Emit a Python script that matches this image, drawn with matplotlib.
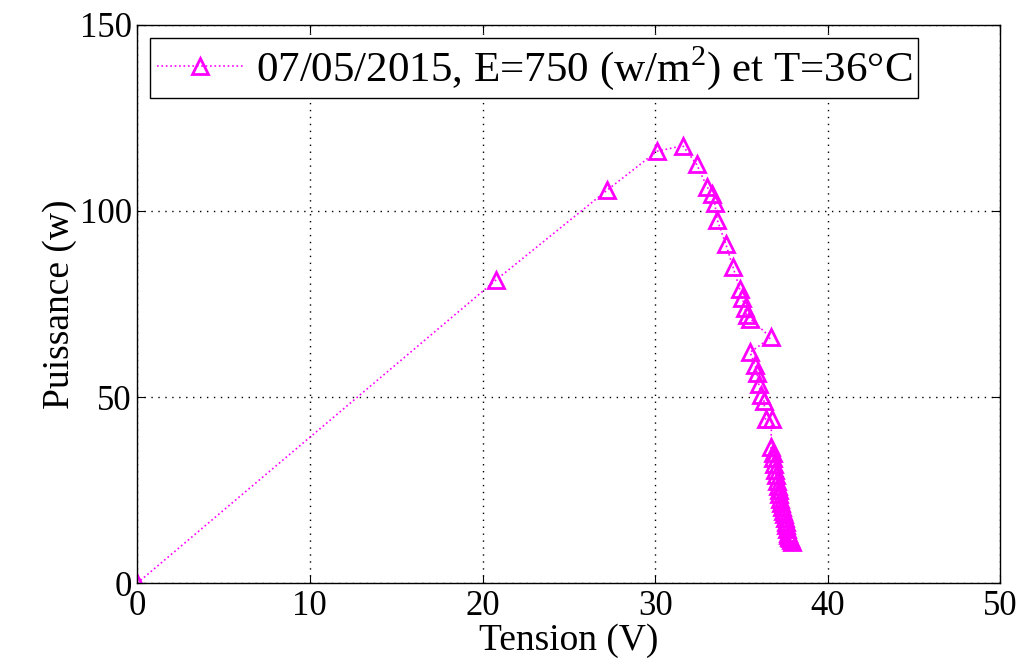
import matplotlib
matplotlib.use("Agg")
import matplotlib.pyplot as plt

tension = [0.0, 20.8, 27.2, 30.1, 31.6, 32.4, 33.0, 33.3, 33.45, 33.6,
           34.1, 34.5, 34.9, 35.05, 35.2, 35.3, 35.5, 36.7,
           35.5, 35.8, 35.9, 36.0, 36.15, 36.3, 36.4, 36.75,
           36.7, 36.8, 36.85, 36.9, 36.95, 37.0, 37.05, 37.1, 37.15, 37.2,
           37.25, 37.3, 37.35, 37.4, 37.45, 37.5, 37.55, 37.6, 37.65, 37.7,
           37.72, 37.75, 37.8, 37.85, 37.9]
puissance = [0.0, 81.5, 105.5, 116.0, 117.5, 112.5, 106.5, 104.5, 102.0, 97.5,
             91.0, 85.0, 79.0, 76.5, 74.0, 72.0, 71.0, 66.0,
             62.0, 58.5, 56.5, 53.5, 50.5, 49.0, 44.0, 44.0,
             36.5, 35.0, 33.5, 32.0, 30.5, 29.0, 27.5, 26.0, 25.0, 24.0,
             22.5, 21.5, 20.5, 19.5, 18.5, 17.5, 16.5, 15.5, 14.5, 13.5,
             13.0, 12.5, 12.0, 11.5, 11.0]

LABEL = "07/05/2015, E=750 (w/m$^2$) et T=36\u00b0C"

plt.rcParams["font.family"] = ["Liberation Serif", "DejaVu Serif"]
plt.rcParams["mathtext.fontset"] = "custom"
plt.rcParams["mathtext.rm"] = "Liberation Serif"

fig = plt.figure(figsize=(10.24, 6.68), dpi=100)
ax = fig.add_axes([0.134, 0.127, 0.843, 0.836])

ax.plot(tension, puissance, color="#ff00ff", linestyle=":", linewidth=1.2,
        marker="^", markersize=12, markerfacecolor="none",
        markeredgecolor="#ff00ff", markeredgewidth=2.0, label=LABEL)

ax.set_xlim(0, 50)
ax.set_ylim(0, 150)
ax.set_xticks(range(0, 51, 10))
ax.set_yticks([0, 50, 100, 150])
ax.tick_params(direction="in", top=True, right=True, labelsize=25, length=6)
ax.tick_params(axis="x", pad=5)
ax.tick_params(axis="y", pad=4)
ax.grid(True, color="black", linestyle=(0, (1, 4)), linewidth=1.0)
for s in ax.spines.values():
    s.set_linewidth(1.0)

ax.set_xlabel("Tension (V)", fontsize=27, labelpad=0)
ax.set_ylabel("Puissance (w)", fontsize=27, labelpad=2)

leg = ax.legend(loc="upper left", fontsize=31, fancybox=False,
                edgecolor="black", framealpha=1, handlelength=2.0,
                handletextpad=0.3, borderpad=0.15, borderaxespad=0.3)
leg.get_frame().set_linewidth(1.0)

fig.savefig("out.png", dpi=100)
